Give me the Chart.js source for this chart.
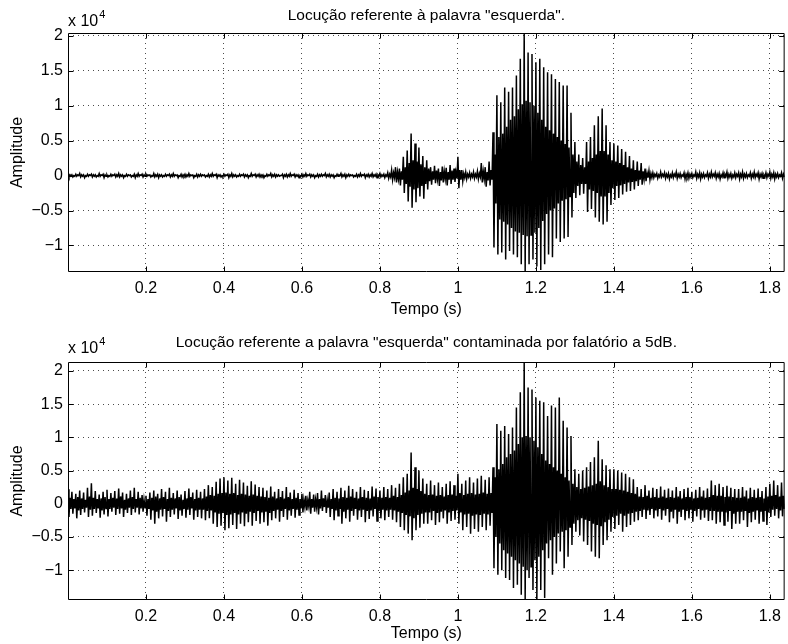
<!DOCTYPE html>
<html>
<head>
<meta charset="utf-8">
<script src="https://cdn.jsdelivr.net/npm/chart.js@4/dist/chart.umd.min.js"></script>
<style>
    html, body { margin: 0; padding: 0; background: #fff; }
    canvas { position: absolute; left: 0; }
</style>
</head>
<body>
<canvas id="plot-clean" width="788" height="322" style="top:0"></canvas>
<canvas id="plot-noisy" width="788" height="322" style="top:322px"></canvas>
<script>
// Amplitudes are in units of 10^4. Per 10 ms window: outer peaks (max / min)
// and the inner level where most of the cycles sit.
const binStep = 0.01;
const xTicks  = [0.2, 0.4, 0.6, 0.8, 1, 1.2, 1.4, 1.6, 1.8];
const yTicks  = [-1, -0.5, 0, 0.5, 1, 1.5, 2];

const cleanHi = [
    0.02,0.01,0.02,0.03,0.01,0.02,0.02,0.01,0.03,0.02, 0.01,0.02,0.02,0.03,0.01,0.02,0.01,0.02,0.03,0.02,
    0.02,0.01,0.03,0.02,0.01,0.02,0.02,0.03,0.01,0.02, 0.02,0.03,0.01,0.02,0.02,0.01,0.02,0.03,0.02,0.01,
    0.02,0.02,0.03,0.01,0.02,0.02,0.01,0.03,0.02,0.02, 0.01,0.02,0.03,0.02,0.01,0.02,0.02,0.03,0.02,0.01,
    0.02,0.03,0.02,0.01,0.02,0.02,0.03,0.02,0.01,0.02, 0.03,0.02,0.02,0.01,0.02,0.03,0.02,0.02,0.03,0.02,
    0.03,0.02,0.04,0.08,0.12,0.10,0.27,0.36,0.60,0.46, 0.40,0.28,0.22,0.12,0.14,0.10,0.13,0.11,0.15,0.10,
    0.27,0.08,0.05,0.04,0.05,0.06,0.18,0.12,0.20,0.62, 1.15,1.05,1.26,1.20,1.26,1.43,1.67,2.04,1.76,1.74,
    1.62,1.67,1.55,1.48,1.45,1.38,1.34,1.29,1.29,0.90, 0.48,0.30,0.25,0.48,0.55,0.72,0.85,0.96,0.72,0.48,
    0.46,0.43,0.38,0.34,0.28,0.22,0.20,0.18,0.10,0.07, 0.04,0.03,0.05,0.04,0.03,0.04,0.05,0.03,0.04,0.04,
    0.03,0.05,0.04,0.03,0.04,0.05,0.04,0.03,0.04,0.05, 0.03,0.04,0.04,0.05,0.03,0.04,0.05,0.04,0.03,0.04,
    0.05,0.04,0.03,0.04
];
const cleanLo = [
    -0.02,-0.02,-0.01,-0.02,-0.03,-0.01,-0.02,-0.02,-0.01,-0.03, -0.02,-0.01,-0.02,-0.02,-0.03,-0.01,-0.02,-0.03,-0.01,-0.02,
    -0.01,-0.02,-0.02,-0.03,-0.02,-0.01,-0.02,-0.01,-0.03,-0.02, -0.02,-0.01,-0.03,-0.02,-0.01,-0.02,-0.02,-0.01,-0.03,-0.02,
    -0.01,-0.03,-0.02,-0.02,-0.01,-0.02,-0.03,-0.01,-0.02,-0.02, -0.03,-0.01,-0.02,-0.02,-0.01,-0.03,-0.02,-0.01,-0.02,-0.03,
    -0.02,-0.01,-0.02,-0.03,-0.02,-0.01,-0.02,-0.02,-0.03,-0.01, -0.02,-0.03,-0.01,-0.02,-0.02,-0.01,-0.03,-0.02,-0.02,-0.03,
    -0.02,-0.03,-0.04,-0.06,-0.10,-0.14,-0.25,-0.37,-0.46,-0.38, -0.30,-0.33,-0.20,-0.13,-0.11,-0.15,-0.10,-0.14,-0.12,-0.09,
    -0.18,-0.08,-0.05,-0.04,-0.04,-0.05,-0.10,-0.16,-0.14,-1.03, -1.13,-1.10,-1.20,-1.08,-1.13,-1.17,-1.27,-1.38,-1.27,-1.20,
    -1.30,-1.35,-1.27,-1.13,-1.17,-0.90,-0.95,-0.90,-0.88,-0.60, -0.32,-0.28,-0.26,-0.52,-0.48,-0.60,-0.66,-0.70,-0.66,-0.42,
    -0.35,-0.32,-0.27,-0.23,-0.22,-0.20,-0.15,-0.13,-0.08,-0.06, -0.03,-0.04,-0.02,-0.04,-0.05,-0.03,-0.04,-0.03,-0.05,-0.04,
    -0.03,-0.04,-0.05,-0.03,-0.04,-0.02,-0.04,-0.05,-0.03,-0.04, -0.04,-0.03,-0.05,-0.04,-0.03,-0.04,-0.03,-0.05,-0.04,-0.03,
    -0.04,-0.05,-0.03,-0.04
];
const cleanInnerHi = [
    0.01,0.00,0.01,0.01,0.00,0.01,0.01,0.00,0.01,0.01, 0.00,0.01,0.01,0.01,0.00,0.01,0.00,0.01,0.01,0.01,
    0.01,0.00,0.01,0.01,0.00,0.01,0.01,0.01,0.00,0.01, 0.01,0.01,0.00,0.01,0.01,0.00,0.01,0.01,0.01,0.00,
    0.01,0.01,0.01,0.00,0.01,0.01,0.00,0.01,0.01,0.01, 0.00,0.01,0.01,0.01,0.00,0.01,0.01,0.01,0.01,0.00,
    0.01,0.01,0.01,0.00,0.01,0.01,0.01,0.01,0.00,0.01, 0.01,0.01,0.01,0.00,0.01,0.01,0.01,0.01,0.01,0.01,
    0.01,0.01,0.02,0.04,0.05,0.06,0.12,0.18,0.22,0.20, 0.16,0.12,0.10,0.06,0.07,0.05,0.06,0.05,0.07,0.05,
    0.08,0.03,0.02,0.02,0.02,0.03,0.06,0.05,0.08,0.30, 0.55,0.60,0.70,0.80,0.85,0.95,1.02,1.07,1.05,1.00,
    0.90,0.80,0.70,0.65,0.60,0.55,0.50,0.45,0.40,0.30, 0.20,0.15,0.12,0.20,0.25,0.30,0.35,0.35,0.30,0.22,
    0.20,0.18,0.15,0.12,0.10,0.08,0.07,0.06,0.04,0.03, 0.02,0.01,0.02,0.02,0.01,0.02,0.02,0.01,0.02,0.02,
    0.01,0.02,0.02,0.01,0.02,0.02,0.02,0.01,0.02,0.02, 0.01,0.02,0.02,0.02,0.01,0.02,0.02,0.02,0.01,0.02,
    0.02,0.02,0.01,0.02
];
const cleanInnerLo = [
    -0.01,-0.01,0.00,-0.01,-0.01,0.00,-0.01,-0.01,0.00,-0.01, -0.01,0.00,-0.01,-0.01,-0.01,0.00,-0.01,-0.01,0.00,-0.01,
    0.00,-0.01,-0.01,-0.01,-0.01,0.00,-0.01,0.00,-0.01,-0.01, -0.01,0.00,-0.01,-0.01,0.00,-0.01,-0.01,0.00,-0.01,-0.01,
    0.00,-0.01,-0.01,-0.01,0.00,-0.01,-0.01,0.00,-0.01,-0.01, -0.01,0.00,-0.01,-0.01,0.00,-0.01,-0.01,0.00,-0.01,-0.01,
    -0.01,0.00,-0.01,-0.01,-0.01,0.00,-0.01,-0.01,-0.01,0.00, -0.01,-0.01,0.00,-0.01,-0.01,0.00,-0.01,-0.01,-0.01,-0.01,
    -0.01,-0.01,-0.02,-0.03,-0.05,-0.06,-0.12,-0.16,-0.20,-0.18, -0.15,-0.12,-0.08,-0.06,-0.05,-0.07,-0.05,-0.06,-0.06,-0.04,
    -0.06,-0.03,-0.02,-0.02,-0.02,-0.02,-0.05,-0.07,-0.06,-0.40, -0.63,-0.66,-0.70,-0.75,-0.80,-0.82,-0.85,-0.87,-0.85,-0.82,
    -0.75,-0.65,-0.55,-0.50,-0.47,-0.40,-0.36,-0.34,-0.30,-0.25, -0.15,-0.12,-0.12,-0.20,-0.22,-0.25,-0.30,-0.30,-0.25,-0.18,
    -0.15,-0.14,-0.12,-0.10,-0.09,-0.08,-0.06,-0.05,-0.03,-0.03, -0.01,-0.02,-0.01,-0.02,-0.02,-0.01,-0.02,-0.01,-0.02,-0.02,
    -0.01,-0.02,-0.02,-0.01,-0.02,-0.01,-0.02,-0.02,-0.01,-0.02, -0.02,-0.01,-0.02,-0.02,-0.01,-0.02,-0.01,-0.02,-0.02,-0.01,
    -0.02,-0.02,-0.01,-0.02
];

const noisyHi = [
    0.22,0.18,0.15,0.20,0.17,0.24,0.31,0.19,0.14,0.18, 0.21,0.16,0.19,0.23,0.17,0.15,0.20,0.24,0.18,0.13,
    0.12,0.17,0.20,0.15,0.22,0.18,0.24,0.16,0.20,0.14, 0.19,0.23,0.17,0.21,0.18,0.22,0.28,0.25,0.33,0.38,
    0.40,0.35,0.39,0.30,0.36,0.32,0.27,0.34,0.29,0.25, 0.24,0.20,0.26,0.18,0.22,0.19,0.25,0.17,0.21,0.16,
    0.15,0.12,0.18,0.14,0.16,0.20,0.13,0.17,0.22,0.18, 0.24,0.20,0.27,0.22,0.18,0.25,0.21,0.19,0.26,0.23,
    0.20,0.25,0.22,0.28,0.24,0.30,0.40,0.45,0.77,0.55, 0.50,0.38,0.30,0.35,0.28,0.32,0.25,0.30,0.34,0.28,
    0.45,0.30,0.35,0.40,0.32,0.38,0.42,0.36,0.40,0.55, 1.20,1.10,1.17,1.05,1.15,1.45,1.68,2.13,1.75,1.72,
    1.60,1.55,1.53,1.32,1.48,1.45,1.60,1.25,1.15,1.02, 0.52,0.45,0.50,0.55,0.63,0.70,0.95,0.67,0.58,0.52,
    0.52,0.50,0.47,0.45,0.40,0.37,0.25,0.22,0.28,0.20, 0.24,0.22,0.26,0.21,0.23,0.20,0.25,0.19,0.22,0.24,
    0.18,0.21,0.25,0.20,0.23,0.35,0.28,0.30,0.25,0.27, 0.24,0.22,0.22,0.25,0.20,0.24,0.21,0.23,0.19,0.25,
    0.30,0.35,0.28,0.32
];
const noisyLo = [
    -0.20,-0.15,-0.22,-0.17,-0.13,-0.20,-0.18,-0.14,-0.21,-0.16, -0.19,-0.12,-0.17,-0.15,-0.20,-0.14,-0.17,-0.13,-0.16,-0.12,
    -0.18,-0.24,-0.30,-0.22,-0.19,-0.27,-0.20,-0.16,-0.23,-0.18, -0.21,-0.17,-0.24,-0.20,-0.22,-0.25,-0.22,-0.30,-0.35,-0.33,
    -0.40,-0.37,-0.32,-0.38,-0.30,-0.34,-0.28,-0.33,-0.26,-0.30, -0.28,-0.33,-0.25,-0.22,-0.27,-0.20,-0.24,-0.18,-0.21,-0.17,
    -0.13,-0.10,-0.15,-0.12,-0.16,-0.11,-0.14,-0.20,-0.25,-0.18, -0.30,-0.22,-0.27,-0.18,-0.24,-0.20,-0.28,-0.23,-0.19,-0.26,
    -0.22,-0.25,-0.20,-0.24,-0.28,-0.35,-0.40,-0.45,-0.55,-0.40, -0.36,-0.30,-0.30,-0.25,-0.32,-0.28,-0.22,-0.30,-0.26,-0.24,
    -0.30,-0.40,-0.35,-0.45,-0.38,-0.42,-0.35,-0.40,-0.33,-0.97, -1.07,-1.00,-1.12,-1.15,-1.27,-1.22,-1.37,-1.45,-1.12,-1.30,
    -1.45,-1.30,-1.42,-0.82,-1.07,-0.90,-0.72,-0.97,-0.80,-0.62, -0.42,-0.48,-0.57,-0.62,-0.72,-0.80,-0.82,-0.62,-0.55,-0.42,
    -0.38,-0.32,-0.42,-0.35,-0.32,-0.27,-0.25,-0.20,-0.23,-0.17, -0.22,-0.19,-0.24,-0.18,-0.28,-0.22,-0.30,-0.20,-0.25,-0.22,
    -0.27,-0.19,-0.24,-0.21,-0.26,-0.25,-0.30,-0.28,-0.32,-0.27, -0.38,-0.30,-0.30,-0.25,-0.35,-0.28,-0.24,-0.30,-0.26,-0.32,
    -0.20,-0.18,-0.22,-0.19
];
const noisyInnerHi = [
    0.09,0.07,0.10,0.08,0.06,0.11,0.09,0.07,0.08,0.10, 0.07,0.09,0.08,0.11,0.06,0.08,0.10,0.07,0.09,0.06,
    0.07,0.09,0.11,0.08,0.10,0.07,0.09,0.08,0.10,0.06, 0.08,0.10,0.07,0.09,0.08,0.11,0.13,0.12,0.15,0.16,
    0.17,0.15,0.16,0.13,0.15,0.14,0.12,0.14,0.12,0.11, 0.10,0.09,0.11,0.08,0.10,0.08,0.10,0.07,0.09,0.07,
    0.06,0.05,0.07,0.06,0.07,0.08,0.05,0.07,0.09,0.08, 0.10,0.09,0.11,0.09,0.08,0.10,0.09,0.08,0.11,0.10,
    0.09,0.10,0.09,0.12,0.10,0.13,0.17,0.20,0.24,0.22, 0.19,0.15,0.13,0.14,0.12,0.13,0.11,0.13,0.14,0.12,
    0.16,0.13,0.15,0.16,0.14,0.15,0.17,0.15,0.16,0.40, 0.52,0.60,0.70,0.75,0.80,0.90,1.00,1.02,1.00,0.95,
    0.85,0.75,0.65,0.60,0.55,0.50,0.45,0.40,0.35,0.30, 0.25,0.22,0.24,0.26,0.28,0.30,0.34,0.28,0.25,0.22,
    0.22,0.21,0.20,0.18,0.16,0.15,0.11,0.10,0.12,0.09, 0.10,0.09,0.11,0.09,0.10,0.09,0.11,0.08,0.10,0.10,
    0.08,0.09,0.11,0.09,0.10,0.13,0.12,0.12,0.10,0.11, 0.10,0.09,0.09,0.11,0.08,0.10,0.09,0.10,0.08,0.11,
    0.12,0.13,0.11,0.12
];
const noisyInnerLo = [
    -0.08,-0.07,-0.10,-0.08,-0.06,-0.09,-0.08,-0.07,-0.10,-0.07, -0.08,-0.06,-0.08,-0.07,-0.09,-0.06,-0.08,-0.06,-0.07,-0.06,
    -0.08,-0.10,-0.12,-0.09,-0.08,-0.11,-0.09,-0.07,-0.10,-0.08, -0.09,-0.07,-0.10,-0.09,-0.09,-0.11,-0.10,-0.13,-0.15,-0.14,
    -0.17,-0.16,-0.14,-0.16,-0.13,-0.15,-0.12,-0.14,-0.11,-0.13, -0.12,-0.14,-0.11,-0.09,-0.11,-0.08,-0.10,-0.08,-0.09,-0.07,
    -0.05,-0.04,-0.06,-0.05,-0.07,-0.05,-0.06,-0.08,-0.10,-0.08, -0.12,-0.09,-0.11,-0.08,-0.10,-0.09,-0.11,-0.10,-0.08,-0.11,
    -0.09,-0.10,-0.09,-0.10,-0.12,-0.14,-0.17,-0.19,-0.22,-0.17, -0.15,-0.13,-0.13,-0.11,-0.14,-0.12,-0.10,-0.13,-0.11,-0.10,
    -0.13,-0.16,-0.15,-0.18,-0.16,-0.17,-0.15,-0.16,-0.14,-0.50, -0.60,-0.70,-0.75,-0.80,-0.85,-0.90,-0.95,-1.00,-0.95,-0.85,
    -0.80,-0.70,-0.60,-0.55,-0.50,-0.45,-0.42,-0.40,-0.35,-0.30, -0.25,-0.22,-0.24,-0.26,-0.30,-0.32,-0.34,-0.28,-0.24,-0.20,
    -0.18,-0.15,-0.18,-0.15,-0.14,-0.12,-0.11,-0.09,-0.10,-0.08, -0.10,-0.08,-0.10,-0.08,-0.12,-0.09,-0.12,-0.09,-0.11,-0.09,
    -0.11,-0.08,-0.10,-0.09,-0.11,-0.11,-0.12,-0.12,-0.13,-0.11, -0.15,-0.12,-0.12,-0.11,-0.14,-0.12,-0.10,-0.12,-0.11,-0.13,
    -0.09,-0.08,-0.10,-0.08
];

const FONT = "'Liberation Sans', Arial, Helvetica, sans-serif";

function fmtTick(v) {
    return v < 0 ? '\u2212' + Math.abs(v) : String(v);
}

// walk outer max -> outer min -> inner max -> inner min in every window,
// which gives the dense core and the sparse tall spikes of a speech trace
function wavePoints(hi, lo, innerHi, innerLo) {
    const pts = [];
    const q = binStep / 4;
    hi.forEach((h, i) => {
        const t = i * binStep;
        pts.push({ x: t,         y: h });
        pts.push({ x: t + q,     y: lo[i] });
        pts.push({ x: t + 2 * q, y: innerHi[i] });
        pts.push({ x: t + 3 * q, y: innerLo[i] });
    });
    return pts;
}

// box, inward tick marks, titles and axis labels in the MATLAB figure style
const framePlugin = {
    id: 'frame',
    afterDraw(chart, args, opts) {
        const { ctx, chartArea: a, scales } = chart;
        const L = a.left + 0.5, R = a.right - 0.5, T = a.top + 0.5, B = a.bottom - 0.5;
        const tick = 5;

        ctx.save();
        ctx.strokeStyle = '#000';
        ctx.lineWidth = 1;
        ctx.beginPath();
        ctx.rect(L, T, R - L, B - T);
        xTicks.forEach(v => {
            const px = Math.round(scales.x.getPixelForValue(v)) + 0.5;
            ctx.moveTo(px, B); ctx.lineTo(px, B - tick);
            ctx.moveTo(px, T); ctx.lineTo(px, T + tick);
        });
        yTicks.forEach(v => {
            const py = Math.round(scales.y.getPixelForValue(v)) + 0.5;
            ctx.moveTo(L, py); ctx.lineTo(L + tick, py);
            ctx.moveTo(R, py); ctx.lineTo(R - tick, py);
        });
        ctx.stroke();

        const cx = (a.left + a.right) / 2;
        ctx.fillStyle = '#000';
        ctx.textAlign = 'center';
        ctx.textBaseline = 'middle';
        ctx.font = `15.5px ${FONT}`;
        ctx.fillText(opts.title, cx, opts.titleY);

        ctx.font = `16px ${FONT}`;
        ctx.fillText('Tempo (s)', cx, opts.xLabelY);

        ctx.save();
        ctx.translate(18, (a.top + a.bottom) / 2);
        ctx.rotate(-Math.PI / 2);
        ctx.fillText('Amplitude', 0, 0);
        ctx.restore();

        // exponent label above the y axis
        ctx.textAlign = 'left';
        ctx.textBaseline = 'alphabetic';
        ctx.fillText('x 10', a.left, opts.expY);
        const w = ctx.measureText('x 10').width;
        ctx.font = `11px ${FONT}`;
        ctx.fillText('4', a.left + w + 1, opts.expY - 8);
        ctx.restore();
    }
};

function makePlot(canvasId, cfg) {
    const font = { family: FONT, size: 16 };
    return new Chart(document.getElementById(canvasId), {
        type: 'line',
        data: {
            datasets: [{
                data: wavePoints(cfg.hi, cfg.lo, cfg.innerHi, cfg.innerLo),
                borderColor: '#000',
                borderWidth: 1.5,
                pointRadius: 0,
                fill: false,
            }],
        },
        options: {
            responsive: false,
            animation: false,
            events: [],
            layout: { padding: { top: cfg.padTop, right: 2, left: 0, bottom: 0 } },
            plugins: {
                legend: { display: false },
                tooltip: { enabled: false },
                frame: cfg.frame,
            },
            scales: {
                x: {
                    type: 'linear',
                    min: 0,
                    max: 1.838,
                    afterBuildTicks: s => { s.ticks = xTicks.map(v => ({ value: v })); },
                    afterFit: s => { s.height = cfg.xAxisHeight; },
                    grid: { color: 'rgba(0,0,0,0.7)', lineWidth: 1, drawTicks: false },
                    border: { display: false, dash: [1, 4] },
                    ticks: { color: '#000', font, padding: 7, maxRotation: 0, autoSkip: false, callback: fmtTick },
                },
                y: {
                    type: 'linear',
                    min: cfg.yMin,
                    max: cfg.yMax,
                    afterBuildTicks: s => { s.ticks = yTicks.map(v => ({ value: v })); },
                    afterFit: s => { s.width = 68; },
                    grid: { color: 'rgba(0,0,0,0.7)', lineWidth: 1, drawTicks: false },
                    border: { display: false, dash: [1, 4] },
                    ticks: { color: '#000', font, padding: 5, autoSkip: false, callback: fmtTick },
                },
            },
        },
        plugins: [framePlugin],
    });
}

makePlot('plot-clean', {
    hi: cleanHi, lo: cleanLo, innerHi: cleanInnerHi, innerLo: cleanInnerLo,
    yMin: -1.38, yMax: 2.04,
    padTop: 33, xAxisHeight: 50,
    frame: { title: 'Locução referente à palavra "esquerda".', titleY: 16, xLabelY: 310, expY: 26 },
});

makePlot('plot-noisy', {
    hi: noisyHi, lo: noisyLo, innerHi: noisyInnerHi, innerLo: noisyInnerLo,
    yMin: -1.45, yMax: 2.135,
    padTop: 40, xAxisHeight: 44,
    frame: { title: 'Locução referente a palavra "esquerda" contaminada por falatório a 5dB.', titleY: 21, xLabelY: 312, expY: 31 },
});
</script>
</body>
</html>
